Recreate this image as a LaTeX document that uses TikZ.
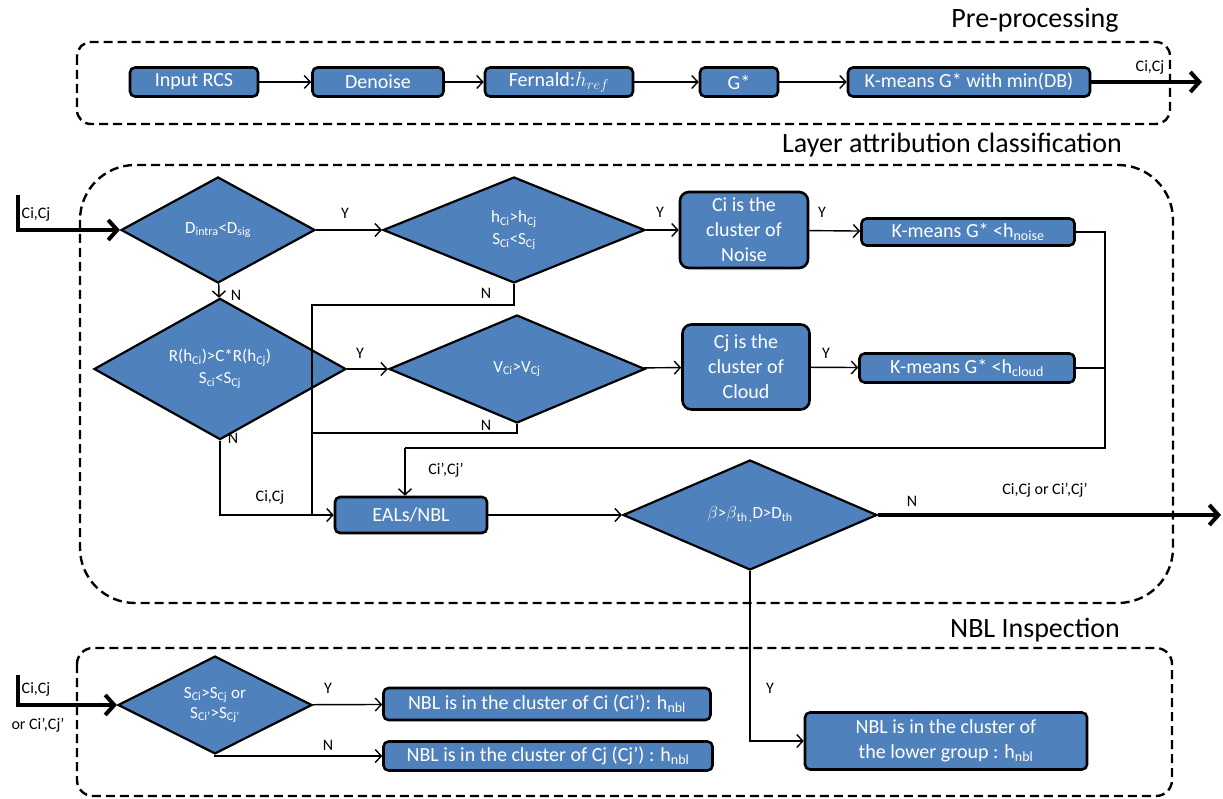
\documentclass[tikz,border=0pt]{standalone}
\usepackage{fontspec}
\setmainfont{Carlito}
\usetikzlibrary{shapes.geometric,arrows.meta}
\definecolor{myblue}{HTML}{4F81BD}
\begin{document}
\begin{tikzpicture}[x=1pt,y=-1pt,
  boxn/.style={draw,line width=2.6pt,fill=myblue,text=white,rounded corners=5pt,
    inner sep=0pt,align=center,font=\fontsize{20}{25}\selectfont},
  dia/.style={draw,diamond,line width=2.2pt,fill=myblue,text=white,inner sep=0pt,
    align=center,font=\fontsize{17}{22}\selectfont},
  conn/.style={line width=1.4pt},
  arr/.style={conn,-{Straight Barb[length=6pt,width=13pt,line width=1.4pt]}},
  thk/.style={line width=4pt,-{Straight Barb[length=9pt,width=20pt,line width=4pt]}},
  lab/.style={font=\fontsize{16}{18}\selectfont,inner sep=1pt},
  ttl/.style={font=\fontsize{28}{30}\selectfont},
  grp/.style={draw,dashed,line width=2.4pt,dash pattern=on 9pt off 5pt}
  ]
\useasboundingbox (0,0) rectangle (1223,799);
\fill[white] (0,0) rectangle (1223,799);

% group frames
\draw[grp,rounded corners=14pt] (77,42) rectangle (1170,124);
\draw[grp,rounded corners=55pt] (80,165) rectangle (1173,603);
\draw[grp,rounded corners=16pt] (77,648) rectangle (1172,796);
\node[ttl] (t1) at (1035,20) {Pre-processing};
\node[ttl] (t2) at (952,145) {Layer attribution classification};
\node[ttl] (t3) at (1035,630) {NBL Inspection};

% pre-processing
\node[boxn,minimum width=128pt,minimum height=29pt] (rcs) at (194,82) {Input RCS};
\node[boxn,minimum width=131pt,minimum height=29pt] (den) at (378,82) {Denoise};
\node[boxn,minimum width=148pt,minimum height=29pt] (fer) at (559,82) {Fernald:$h_{ref}$};
\node[boxn,minimum width=78pt,minimum height=29pt] (gst) at (739,82) {G*};
\node[boxn,minimum width=242pt,minimum height=29pt] (km) at (969,82) {K-means G* with min(DB)};
\coordinate (o1) at (1202,82);
\draw[arr] (rcs) -- (den);
\draw[arr] (den) -- (fer);
\draw[arr] (fer) -- (gst);
\draw[arr] (gst) -- (km);
\draw[thk] (km) -- (o1);
\node[lab] (l1) at (1150,67) {Ci,Cj};

% layer attribution
\coordinate (i1a) at (18,195);
\coordinate (i1b) at (18,230);
\node[dia,minimum width=194pt,minimum height=106pt] (d1) at (218,230) {D\textsubscript{intra}<D\textsubscript{sig}};
\node[dia,minimum width=262pt,minimum height=106pt] (d2) at (514,230) {h\textsubscript{Ci}>h\textsubscript{Cj}\\S\textsubscript{Ci}<S\textsubscript{Cj}};
\node[boxn,rounded corners=9pt,minimum width=128pt,minimum height=76pt] (noi) at (744,230) {Ci is the\\cluster of\\Noise};
\node[boxn,minimum width=213pt,minimum height=27pt] (kn) at (968,232) {K-means G* <h\textsubscript{noise}};
\node[dia,minimum width=252pt,minimum height=108pt] (d3) at (220,369) {R(h\textsubscript{Ci})>C*R(h\textsubscript{Cj})\\S\textsubscript{ci}<S\textsubscript{Cj}};
\node[dia,minimum width=256pt,minimum height=108pt] (d4) at (517,369) {V\textsubscript{Ci}>V\textsubscript{Cj}};
\node[boxn,rounded corners=9pt,minimum width=127pt,minimum height=85pt] (clo) at (746,367) {Cj is the\\cluster of\\Cloud};
\node[boxn,minimum width=215pt,minimum height=29pt] (kc) at (967,368) {K-means G* <h\textsubscript{cloud}};
\node[boxn,minimum width=152pt,minimum height=36pt] (eal) at (411,515) {EALs/NBL};
\node[dia,minimum width=254pt,minimum height=110pt] (d5) at (750,515) {$\beta$>$\beta$\textsubscript{th\,,}D>D\textsubscript{th}};
\coordinate (o2) at (1221,515);

\draw[thk] (i1a) -- (i1b) -- (d1.west);
\node[lab] (l2) at (36,214) {Ci,Cj};
\draw[arr] (d1) -- (d2);
\node[lab] (y1) at (345,213) {Y};
\draw[arr] (d1) -- (d3);
\node[lab] (n1) at (236,295) {N};
\draw[arr] (d2) -- (noi);
\node[lab] (y2) at (660,212) {Y};
\draw[arr] (noi) -- (kn);
\node[lab] (y3) at (822,212) {Y};
\draw[arr] (d3) -- (d4);
\node[lab] (y4) at (360,353) {Y};
\draw[arr] (d4) -- (clo);
\draw[arr] (clo) -- (kc);
\node[lab] (y5) at (826,353) {Y};

\coordinate (jr1) at (1105,232);
\coordinate (jr2) at (1105,368);
\coordinate (jr3) at (1105,448);
\coordinate (jl3) at (405,448);
\draw[conn] (kn.east) -- (jr1) -- (jr3) -- (jl3);
\draw[conn] (kc.east) -- (jr2);
\draw[arr] (jl3) -- (jl3 |- eal.north);
\node[lab] (l3) at (446,470) {Ci’,Cj’};

\coordinate (a1) at (514,305);
\coordinate (a2) at (312,305);
\coordinate (a3) at (312,515);
\coordinate (b1) at (517,433);
\coordinate (b2) at (312,433);
\draw[conn] (d2.south) -- (a1) -- (a2) -- (a3);
\node[lab] (n2) at (486,293) {N};
\draw[conn] (d4.south) -- (b1) -- (b2);
\node[lab] (n3) at (486,425) {N};
\coordinate (c1) at (220,515);
\draw[arr] (d3.south) -- (c1) -- (eal.west);
\node[lab] (n4) at (233,438) {N};
\node[lab] (l4) at (270,497) {Ci,Cj};
\draw[arr] (eal) -- (d5);
\draw[thk] (d5.east) -- (o2);
\node[lab] (n5) at (912,501) {N};
\node[lab] (l5) at (1045,490) {Ci,Cj or Ci’,Cj’};

% NBL inspection
\node[dia,minimum width=194pt,minimum height=64pt,font=\fontsize{17}{20}\selectfont] (d6) at (215,705) {S\textsubscript{Ci}>S\textsubscript{Cj} or\\S\textsubscript{Ci’}>S\textsubscript{Cj’}};
\node[boxn,minimum width=327pt,minimum height=32pt] (nb1) at (547,704) {NBL is in the cluster of Ci (Ci’): h\textsubscript{nbl}};
\node[boxn,minimum width=329pt,minimum height=29pt] (nb2) at (548,756) {NBL is in the cluster of Cj (Cj’) : h\textsubscript{nbl}};
\node[boxn,minimum width=282pt,minimum height=57pt,font=\fontsize{20}{25}\selectfont] (nb3) at (946,741) {NBL is in the cluster of\\the lower group : h\textsubscript{nbl}};
\coordinate (i2a) at (18,675);
\coordinate (i2b) at (18,705);
\draw[thk] (i2a) -- (i2b) -- (d6.west);
\node[lab] (l6) at (36,689) {Ci,Cj};
\node[lab] (l7) at (38,725) {or Ci’,Cj’};
\draw[arr] (d6) -- (nb1);
\node[lab] (y6) at (328,688) {Y};
\coordinate (e1) at (215,756);
\draw[arr] (d6.south) -- (e1) -- (nb2.west);
\node[lab] (n6) at (328,745) {N};
\coordinate (f1) at (750,741);
\draw[arr] (d5.south) -- (f1) -- (nb3.west);
\node[lab] (y7) at (770,688) {Y};
\end{tikzpicture}
\end{document}
